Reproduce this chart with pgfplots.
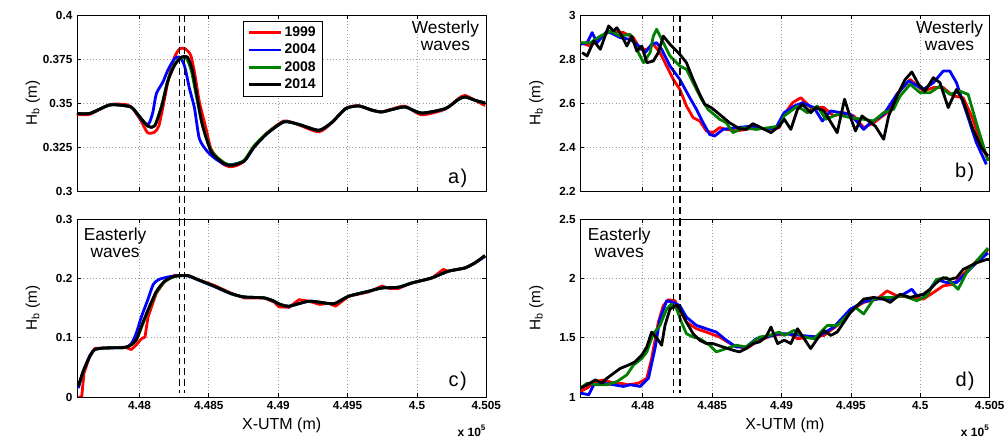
\documentclass[border=0pt]{standalone}
\usepackage{fontspec}
\setmainfont{Liberation Sans}
\usepackage{pgfplots}
\pgfplotsset{compat=1.18}
\usepgfplotslibrary{groupplots}

\definecolor{mred}{rgb}{1,0,0}
\definecolor{mblue}{rgb}{0,0,1}
\definecolor{mgreen}{rgb}{0,0.5,0}

\pgfplotsset{
  hb/.style={
    scale only axis, width=307pt,
    xmin=4.4755, xmax=4.505,
    xtick={4.48,4.485,4.49,4.495,4.5,4.505},
    tick align=inside, major tick length=3pt,
    grid=major, grid style={dotted, gray!75, line width=0.5pt},
    axis line style={line width=0.6pt},
    tick style={line width=0.6pt, black},
    /pgf/number format/assume math mode=true,
    tick label style={font=\fontsize{8.8}{10}\selectfont\bfseries},
    ylabel={H\textsubscript{b} (m)},
    ylabel style={font=\fontsize{11.5}{13}\selectfont, at={(axis description cs:-0.1075,0.5)}, anchor=center},
    xlabel style={font=\fontsize{12}{13}\selectfont, at={(axis description cs:0.5,-0.158)}, anchor=center},
    clip mode=individual,
    every axis plot/.append style={line width=2.1pt, line join=round},
  },
}
\tikzset{
  vdash/.style={black, line width=1.1pt, dash pattern=on 5pt off 3pt},
  wtxt/.style={anchor=north, align=center, inner sep=0pt, font=\fontsize{13}{12.5}\selectfont},
  ptxt/.style={font=\fontsize{15}{15}\selectfont},
  stxt/.style={anchor=east, inner sep=0pt, font=\fontsize{9}{10}\selectfont\bfseries},
}

\begin{document}
\begin{tikzpicture}
\begin{groupplot}[group style={group size=2 by 2, horizontal sep=70.5pt, vertical sep=21pt}, hb]

% ---------------- a) westerly, left
\nextgroupplot[height=132pt, ymin=0.3, ymax=0.4,
  ytick={0.3,0.325,0.35,0.375,0.4}, yticklabels={0.3,0.325,0.35,0.375,0.4},
  xticklabels={},
  legend style={at={(axis description cs:0.405,0.966)}, anchor=north west, draw=black, line width=0.6pt,
    font=\fontsize{10.5}{12}\selectfont\bfseries, inner xsep=3pt, inner ysep=2pt, row sep=0.2pt},
  legend cell align=left,
  legend image code/.code={\draw[#1, line width=2.1pt] (0pt,0pt) -- (24pt,0pt);}]
\addplot[mred, smooth, tension=0.4] coordinates {
(4.4755,0.3435) (4.47643,0.3436) (4.47787,0.3491) (4.47909,0.3490) (4.47952,0.3468)
(4.48010,0.3400) (4.48059,0.3331) (4.48110,0.3335) (4.48140,0.3370) (4.48170,0.3480)
(4.48210,0.3640) (4.48253,0.3760) (4.48290,0.3808) (4.48330,0.3808) (4.48370,0.3770)
(4.48400,0.3660) (4.48432,0.3506) (4.48480,0.3354) (4.48516,0.3240) (4.48590,0.3160)
(4.48650,0.3138) (4.48700,0.3145) (4.48755,0.3170) (4.48827,0.3252) (4.48920,0.3330)
(4.49042,0.3398) (4.49150,0.3375) (4.49293,0.3336) (4.49387,0.3388) (4.49487,0.3470)
(4.49580,0.3485) (4.49674,0.3458) (4.49745,0.3450) (4.49831,0.3468) (4.49915,0.3482)
(4.50034,0.3433) (4.50204,0.3465) (4.50298,0.3525) (4.50346,0.3543) (4.50420,0.3515)
(4.50491,0.3485)};
\addlegendentry{1999}
\addplot[mblue, smooth, tension=0.4] coordinates {
(4.4755,0.3441) (4.47643,0.3441) (4.47787,0.3489) (4.47909,0.3483) (4.47952,0.3470)
(4.48038,0.3383) (4.48070,0.3385) (4.48097,0.3449) (4.48122,0.3553) (4.48169,0.3619)
(4.48205,0.3687) (4.48253,0.3752) (4.48290,0.3761) (4.48325,0.3710) (4.48361,0.3581)
(4.48397,0.3470) (4.48432,0.3297) (4.48492,0.3222) (4.48564,0.3174) (4.48636,0.3148)
(4.48755,0.3170) (4.48827,0.3250) (4.48920,0.3326) (4.49042,0.3393) (4.49150,0.3378)
(4.49293,0.3345) (4.49387,0.3390) (4.49487,0.3468) (4.49580,0.3483) (4.49674,0.3460)
(4.49745,0.3449) (4.49831,0.3465) (4.49917,0.3477) (4.50032,0.3443) (4.50204,0.3468)
(4.50298,0.3520) (4.50348,0.3534) (4.50420,0.3515) (4.50491,0.3500)};
\addlegendentry{2004}
\addplot[mgreen, smooth, tension=0.4] coordinates {
(4.4755,0.3441) (4.47643,0.3441) (4.47787,0.3489) (4.47909,0.3483) (4.47952,0.3470)
(4.48059,0.3368) (4.48110,0.3372) (4.48160,0.3485) (4.48203,0.3625) (4.48253,0.3720)
(4.48300,0.3757) (4.48340,0.3752) (4.48375,0.3680) (4.48410,0.3540) (4.48450,0.3390)
(4.48518,0.3228) (4.48612,0.3160) (4.48669,0.3148) (4.48755,0.3175) (4.48827,0.3258)
(4.48920,0.3330) (4.49042,0.3393) (4.49150,0.3378) (4.49293,0.3345) (4.49387,0.3390)
(4.49487,0.3468) (4.49580,0.3483) (4.49674,0.3460) (4.49745,0.3449) (4.49831,0.3465)
(4.49917,0.3477) (4.50032,0.3443) (4.50204,0.3468) (4.50298,0.3520) (4.50348,0.3534)
(4.50420,0.3515) (4.50491,0.3500)};
\addlegendentry{2008}
\addplot[black, smooth, tension=0.4] coordinates {
(4.4755,0.3441) (4.47643,0.3441) (4.47787,0.3489) (4.47909,0.3483) (4.47952,0.3470)
(4.48059,0.3370) (4.48110,0.3370) (4.48160,0.3480) (4.48203,0.3619) (4.48253,0.3714)
(4.48303,0.3761) (4.48346,0.3761) (4.48382,0.3686) (4.48418,0.3525) (4.48454,0.3373)
(4.48518,0.3222) (4.48612,0.3155) (4.48669,0.3146) (4.48755,0.3170) (4.48827,0.3250)
(4.48920,0.3326) (4.49042,0.3393) (4.49150,0.3378) (4.49293,0.3345) (4.49387,0.3390)
(4.49487,0.3468) (4.49580,0.3483) (4.49674,0.3460) (4.49745,0.3449) (4.49831,0.3465)
(4.49917,0.3477) (4.50032,0.3443) (4.50204,0.3468) (4.50298,0.3520) (4.50348,0.3534)
(4.50420,0.3515) (4.50491,0.3500)};
\addlegendentry{2014}
\draw[vdash] (axis cs:4.48289,0.4) -- (axis cs:4.48289,0.284);
\draw[vdash] (axis cs:4.48325,0.4) -- (axis cs:4.48325,0.284);
\node[wtxt] at (axis description cs:0.9,0.966) {Westerly\\waves};
\node[ptxt] at (axis description cs:0.93,0.074) {a\kern1pt)};

% ---------------- b) westerly, right
\nextgroupplot[height=132pt, ymin=2.2, ymax=3,
  ytick={2.2,2.4,2.6,2.8,3}, yticklabels={2.2,2.4,2.6,2.8,3},
  xticklabels={}]
\addplot[mred] coordinates {
(4.47551,2.874) (4.47623,2.859) (4.47694,2.897) (4.47766,2.927) (4.47861,2.920)
(4.47933,2.897) (4.47981,2.844) (4.48029,2.844) (4.48076,2.867) (4.48124,2.829)
(4.48172,2.768) (4.48220,2.707) (4.48267,2.662) (4.48315,2.586) (4.48363,2.533)
(4.48411,2.518) (4.48458,2.473) (4.48506,2.465) (4.48554,2.488) (4.48602,2.480)
(4.48673,2.473) (4.48745,2.480) (4.48817,2.488) (4.48912,2.480) (4.48984,2.488)
(4.49019,2.548) (4.49079,2.601) (4.49139,2.624) (4.49210,2.579) (4.49306,2.579)
(4.49377,2.541) (4.49449,2.556) (4.49521,2.541) (4.49592,2.488) (4.49664,2.510)
(4.49760,2.556) (4.49831,2.639) (4.49927,2.707) (4.50022,2.654) (4.50094,2.670)
(4.50165,2.670) (4.50237,2.632) (4.50309,2.624) (4.50380,2.526) (4.50440,2.404)
(4.50488,2.344)};
\addplot[mblue] coordinates {
(4.47551,2.867) (4.47599,2.874) (4.47635,2.920) (4.47670,2.874) (4.47742,2.927)
(4.47838,2.897) (4.47909,2.889) (4.47957,2.867) (4.48017,2.829) (4.48064,2.867)
(4.48100,2.874) (4.48136,2.844) (4.48196,2.768) (4.48267,2.707) (4.48339,2.624)
(4.48387,2.571) (4.48435,2.510) (4.48482,2.457) (4.48518,2.450) (4.48578,2.480)
(4.48673,2.488) (4.48793,2.495) (4.48888,2.480) (4.48960,2.488) (4.49019,2.556)
(4.49091,2.586) (4.49151,2.601) (4.49234,2.579) (4.49294,2.518) (4.49354,2.564)
(4.49425,2.556) (4.49497,2.548) (4.49592,2.480) (4.49640,2.510) (4.49736,2.548)
(4.49831,2.639) (4.49915,2.700) (4.50022,2.662) (4.50094,2.692) (4.50165,2.745)
(4.50213,2.745) (4.50261,2.692) (4.50333,2.556) (4.50404,2.420) (4.50476,2.321)};
\addplot[mgreen] coordinates {
(4.47551,2.874) (4.47623,2.874) (4.47694,2.904) (4.47766,2.927) (4.47838,2.904)
(4.47909,2.912) (4.47957,2.844) (4.48005,2.783) (4.48053,2.829) (4.48076,2.904)
(4.48100,2.935) (4.48148,2.874) (4.48196,2.814) (4.48267,2.768) (4.48315,2.753)
(4.48375,2.677) (4.48423,2.617) (4.48470,2.571) (4.48554,2.526) (4.48602,2.510)
(4.48650,2.465) (4.48721,2.488) (4.48817,2.480) (4.48912,2.488) (4.48984,2.495)
(4.49019,2.541) (4.49115,2.586) (4.49186,2.556) (4.49258,2.586) (4.49318,2.526)
(4.49401,2.548) (4.49497,2.533) (4.49592,2.526) (4.49664,2.518) (4.49736,2.556)
(4.49807,2.571) (4.49855,2.632) (4.49927,2.685) (4.49998,2.647) (4.50070,2.647)
(4.50142,2.677) (4.50213,2.639) (4.50285,2.654) (4.50345,2.639) (4.50404,2.510)
(4.50488,2.336)};
\addplot[black] coordinates {
(4.47563,2.829) (4.47599,2.814) (4.47647,2.882) (4.47694,2.844) (4.47754,2.950)
(4.47790,2.927) (4.47814,2.942) (4.47850,2.904) (4.47885,2.859) (4.47921,2.904)
(4.47957,2.836) (4.47993,2.859) (4.48029,2.783) (4.48076,2.791) (4.48112,2.829)
(4.48148,2.904) (4.48196,2.867) (4.48267,2.821) (4.48315,2.783) (4.48363,2.707)
(4.48411,2.639) (4.48447,2.594) (4.48494,2.579) (4.48554,2.548) (4.48626,2.510)
(4.48697,2.483) (4.48745,2.480) (4.48793,2.506) (4.48853,2.488) (4.48924,2.465)
(4.48984,2.495) (4.49020,2.526) (4.49067,2.480) (4.49115,2.571) (4.49151,2.594)
(4.49210,2.556) (4.49246,2.579) (4.49306,2.564) (4.49401,2.465) (4.49454,2.617)
(4.49485,2.556) (4.49533,2.473) (4.49580,2.541) (4.49628,2.518) (4.49676,2.495)
(4.49736,2.435) (4.49772,2.541) (4.49843,2.647) (4.49891,2.707) (4.49939,2.741)
(4.49987,2.685) (4.50034,2.654) (4.50094,2.715) (4.50142,2.692) (4.50201,2.579)
(4.50261,2.662) (4.50309,2.609) (4.50380,2.480) (4.50440,2.397) (4.50488,2.359)};
\draw[vdash] (axis cs:4.48220,3) -- (axis cs:4.48220,2.073);
\draw[vdash] (axis cs:4.48267,3) -- (axis cs:4.48267,2.073);
\node[wtxt] at (axis description cs:0.902,0.966) {Westerly\\waves};
\node[ptxt] at (axis description cs:0.939,0.108) {b\kern1pt)};

% ---------------- c) easterly, left
\nextgroupplot[height=133.5pt, ymin=0, ymax=0.3,
  ytick={0,0.1,0.2,0.3}, yticklabels={0,0.1,0.2,0.3},
  xticklabels={4.48,4.485,4.49,4.495,4.5,4.505}, xlabel={X-UTM (m)}]
\addplot[mred] coordinates {
(4.4756,0.000) (4.47584,0.000) (4.47600,0.040) (4.47643,0.070) (4.47679,0.082)
(4.47751,0.0826) (4.47894,0.0840) (4.47942,0.0800) (4.47978,0.0880) (4.48014,0.098)
(4.48040,0.101) (4.48062,0.135) (4.48122,0.175) (4.48181,0.195) (4.48253,0.205)
(4.48348,0.2047) (4.48420,0.198) (4.48540,0.1880) (4.48660,0.1750) (4.48755,0.1670)
(4.48899,0.1670) (4.48970,0.1600) (4.49006,0.1520) (4.49078,0.1510) (4.49150,0.1640)
(4.49222,0.1614) (4.49300,0.1560) (4.49365,0.1580) (4.49413,0.1530) (4.49508,0.1698)
(4.49652,0.1770) (4.49748,0.1870) (4.49800,0.1830) (4.49867,0.1830) (4.49963,0.1922)
(4.50106,0.2000) (4.50190,0.2150) (4.50226,0.2120) (4.50346,0.2175) (4.50418,0.2260)
(4.5049,0.2370)};
\addplot[mblue, smooth, tension=0.4] coordinates {
(4.4756,0.015) (4.47595,0.0433) (4.47643,0.0700) (4.47679,0.0800) (4.47751,0.0826)
(4.47894,0.0834) (4.47942,0.0900) (4.47978,0.1080) (4.48014,0.1350) (4.48062,0.1650)
(4.48100,0.1900) (4.48140,0.1980) (4.48200,0.2020) (4.48253,0.2040) (4.48348,0.2040)
(4.48420,0.1975) (4.48540,0.1860) (4.48660,0.1740) (4.48755,0.1686) (4.48899,0.1670)
(4.48970,0.1614) (4.49006,0.1568) (4.49078,0.1530) (4.49222,0.1614) (4.49365,0.1575)
(4.49413,0.1580) (4.49508,0.1698) (4.49652,0.1782) (4.49748,0.1838) (4.49867,0.1850)
(4.49963,0.1922) (4.50106,0.2007) (4.50226,0.2120) (4.50346,0.2175) (4.50418,0.2260)
(4.5049,0.2370)};
\addplot[mgreen, smooth, tension=0.4] coordinates {
(4.4756,0.018) (4.47595,0.0433) (4.47643,0.0686) (4.47679,0.0800) (4.47751,0.0826)
(4.47894,0.0834) (4.47942,0.0880) (4.47978,0.0960) (4.48014,0.1170) (4.48062,0.1450)
(4.48122,0.1760) (4.48181,0.1940) (4.48253,0.2030) (4.48348,0.2047) (4.48420,0.1980)
(4.48540,0.1867) (4.48660,0.1743) (4.48755,0.1686) (4.48899,0.1670) (4.48970,0.1614)
(4.49006,0.1568) (4.49078,0.1530) (4.49222,0.1614) (4.49365,0.1575) (4.49413,0.1580)
(4.49508,0.1698) (4.49652,0.1782) (4.49748,0.1838) (4.49867,0.1850) (4.49963,0.1922)
(4.50106,0.2007) (4.50226,0.2120) (4.50346,0.2175) (4.50418,0.2260) (4.5049,0.2385)};
\addplot[black, smooth, tension=0.4] coordinates {
(4.47559,0.018) (4.47595,0.0433) (4.47643,0.0686) (4.47679,0.0800) (4.47751,0.0826)
(4.47894,0.0834) (4.47942,0.0883) (4.47978,0.0968) (4.48014,0.1190) (4.48062,0.1470)
(4.48122,0.1780) (4.48181,0.1950) (4.48253,0.2035) (4.48348,0.2047) (4.48420,0.1980)
(4.48540,0.1867) (4.48660,0.1743) (4.48755,0.1686) (4.48899,0.1670) (4.48970,0.1614)
(4.49006,0.1568) (4.49078,0.1530) (4.49222,0.1614) (4.49365,0.1575) (4.49413,0.1580)
(4.49508,0.1698) (4.49652,0.1782) (4.49748,0.1838) (4.49867,0.1850) (4.49963,0.1922)
(4.50106,0.2007) (4.50226,0.2120) (4.50346,0.2175) (4.50418,0.2260) (4.5049,0.2385)};
\draw[vdash] (axis cs:4.48289,0.3) -- (axis cs:4.48289,0.007);
\draw[vdash] (axis cs:4.48325,0.3) -- (axis cs:4.48325,0.007);
\node[wtxt] at (axis description cs:0.093,0.95) {Easterly\\waves};
\node[ptxt] at (axis description cs:0.93,0.086) {c\kern1pt)};
\node[stxt] at (axis description cs:1,-0.19) {x 10\textsuperscript{5}};

% ---------------- d) easterly, right
\nextgroupplot[height=133.5pt, ymin=1, ymax=2.5,
  ytick={1,1.5,2,2.5}, yticklabels={1,1.5,2,2.5},
  xticklabels={4.48,4.485,4.49,4.495,4.5,4.505}, xlabel={X-UTM (m)}]
\addplot[mred] coordinates {
(4.47551,1.047) (4.47599,1.075) (4.47659,1.130) (4.47718,1.144) (4.47790,1.116)
(4.47838,1.116) (4.47897,1.103) (4.47969,1.116) (4.48029,1.158) (4.48064,1.325)
(4.48112,1.630) (4.48148,1.769) (4.48184,1.819) (4.48232,1.811) (4.48267,1.728)
(4.48315,1.630) (4.48387,1.575) (4.48458,1.547) (4.48554,1.505) (4.48650,1.436)
(4.48745,1.408) (4.48841,1.478) (4.48936,1.519) (4.49056,1.533) (4.49115,1.491)
(4.49210,1.505) (4.49306,1.519) (4.49401,1.603) (4.49497,1.728) (4.49592,1.797)
(4.49688,1.825) (4.49760,1.894) (4.49831,1.853) (4.49927,1.839) (4.50022,1.825)
(4.50094,1.880) (4.50165,1.936) (4.50237,1.950) (4.50309,2.033) (4.50404,2.144)
(4.50488,2.241)};
\addplot[mblue] coordinates {
(4.47551,1.033) (4.47611,1.019) (4.47647,1.103) (4.47718,1.116) (4.47790,1.103)
(4.47861,1.089) (4.47909,1.103) (4.47981,1.089) (4.48041,1.158) (4.48088,1.408)
(4.48124,1.658) (4.48172,1.811) (4.48220,1.797) (4.48267,1.769) (4.48315,1.672)
(4.48387,1.603) (4.48458,1.575) (4.48530,1.547) (4.48602,1.478) (4.48673,1.422)
(4.48745,1.422) (4.48817,1.491) (4.48888,1.505) (4.48984,1.533) (4.49019,1.533)
(4.49139,1.519) (4.49258,1.505) (4.49377,1.589) (4.49497,1.741) (4.49592,1.803)
(4.49688,1.825) (4.49783,1.825) (4.49879,1.866) (4.49939,1.908) (4.49975,1.853)
(4.50046,1.866) (4.50118,1.991) (4.50189,1.964) (4.50261,1.964) (4.50333,2.047)
(4.50404,2.130) (4.50488,2.214)};
\addplot[mgreen] coordinates {
(4.47551,1.075) (4.47599,1.116) (4.47670,1.103) (4.47742,1.103) (4.47814,1.130)
(4.47885,1.186) (4.47933,1.269) (4.47993,1.325) (4.48029,1.380) (4.48076,1.533)
(4.48124,1.603) (4.48172,1.741) (4.48208,1.783) (4.48244,1.741) (4.48279,1.630)
(4.48315,1.533) (4.48363,1.505) (4.48411,1.491) (4.48482,1.436) (4.48530,1.380)
(4.48602,1.408) (4.48673,1.436) (4.48745,1.422) (4.48793,1.464) (4.48841,1.505)
(4.48912,1.519) (4.48984,1.547) (4.49019,1.519) (4.49091,1.561) (4.49163,1.505)
(4.49234,1.491) (4.49330,1.603) (4.49401,1.603) (4.49473,1.686) (4.49533,1.755)
(4.49592,1.700) (4.49664,1.825) (4.49736,1.839) (4.49807,1.839) (4.49879,1.853)
(4.49975,1.811) (4.50046,1.853) (4.50118,1.991) (4.50189,2.005) (4.50273,1.908)
(4.50333,2.047) (4.50404,2.144) (4.50488,2.255)};
\addplot[black] coordinates {
(4.47551,1.075) (4.47599,1.103) (4.47659,1.144) (4.47706,1.116) (4.47742,1.158)
(4.47790,1.200) (4.47838,1.241) (4.47897,1.269) (4.47945,1.297) (4.47993,1.353)
(4.48029,1.422) (4.48064,1.547) (4.48105,1.491) (4.48136,1.436) (4.48160,1.603)
(4.48196,1.741) (4.48244,1.775) (4.48279,1.714) (4.48315,1.630) (4.48363,1.533)
(4.48411,1.478) (4.48458,1.450) (4.48506,1.450) (4.48578,1.422) (4.48650,1.394)
(4.48697,1.380) (4.48745,1.408) (4.48793,1.450) (4.48841,1.464) (4.48888,1.505)
(4.48924,1.589) (4.48972,1.450) (4.49020,1.478) (4.49067,1.450) (4.49115,1.575)
(4.49163,1.491) (4.49210,1.408) (4.49258,1.491) (4.49306,1.561) (4.49354,1.519)
(4.49401,1.547) (4.49449,1.630) (4.49497,1.714) (4.49545,1.769) (4.49592,1.825)
(4.49664,1.839) (4.49736,1.825) (4.49783,1.797) (4.49855,1.866) (4.49927,1.839)
(4.49975,1.853) (4.50022,1.866) (4.50070,1.908) (4.50118,1.964) (4.50165,2.005)
(4.50213,1.991) (4.50261,2.005) (4.50309,2.075) (4.50356,2.103) (4.50404,2.130)
(4.50476,2.158) (4.505,2.158)};
\draw[vdash] (axis cs:4.48220,2.5) -- (axis cs:4.48220,1.034);
\draw[vdash] (axis cs:4.48267,2.5) -- (axis cs:4.48267,1.034);
\node[wtxt] at (axis description cs:0.095,0.95) {Easterly\\waves};
\node[ptxt] at (axis description cs:0.94,0.086) {d\kern1pt)};
\node[stxt] at (axis description cs:1,-0.19) {x 10\textsuperscript{5}};
\end{groupplot}
\pgfresetboundingbox
\path[use as bounding box] (group c1r1.north west) ++(-57.75pt,11.25pt) rectangle ++(756pt,-330.75pt);
\end{tikzpicture}
\end{document}
